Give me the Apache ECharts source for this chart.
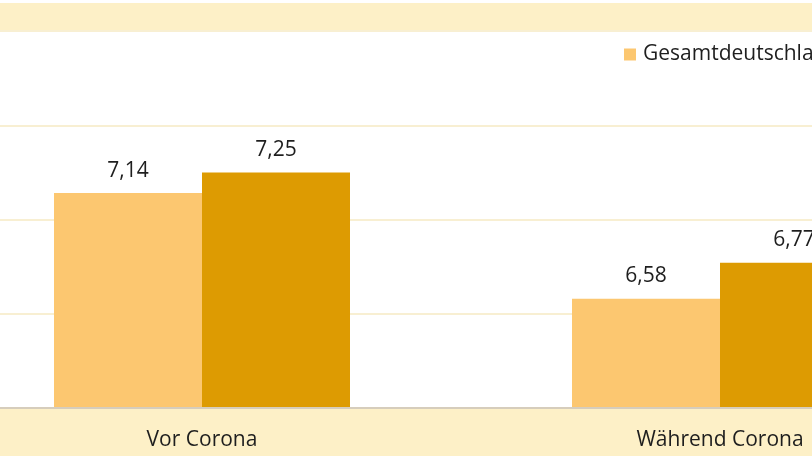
<!DOCTYPE html>
<html>
<head>
<meta charset="utf-8">
<script src="https://cdn.jsdelivr.net/npm/echarts@6/dist/echarts.min.js"></script>
<style>
html,body{margin:0;padding:0;overflow:hidden;background:#fff;width:812px;height:459px;position:relative;}
#chart{position:absolute;left:-100px;top:0;width:1200px;height:459px;}
</style>
</head>
<body>
<div id="chart"></div>
<script>
const categories = ["Vor Corona", "Während Corona"];
const seriesNames = ["Gesamtdeutschland", "Bayern"];
const valuesGesamt = [7.14, 6.58];
const valuesRegion = [7.25, 6.77];

const chart = echarts.init(document.getElementById('chart'));
const FONT = '"Open Sans", "Noto Sans", sans-serif';
const labelFmt = p => String(p.value.toFixed(2)).replace('.', ',');

chart.setOption({
  animation: false,
  backgroundColor: '#ffffff',
  textStyle: { fontFamily: FONT },
  graphic: [
    { type: 'rect', shape: { x: 0, y: 3, width: 1200, height: 28 }, style: { fill: '#FDF0C7' }, z: -10, silent: true },
    { type: 'rect', shape: { x: 0, y: 409, width: 1200, height: 47 }, style: { fill: '#FDF0C7' }, z: -10, silent: true }
  ],
  legend: {
    data: seriesNames,
    left: 724,
    top: 44,
    padding: 0,
    icon: 'rect',
    itemWidth: 12,
    itemHeight: 12,
    itemGap: 30,
    textStyle: { fontSize: 21, color: '#1e1e1e', fontFamily: FONT, padding: [0, 0, 0, 2] }
  },
  grid: { left: 43, right: 121, top: 31, bottom: 51, containLabel: false },
  xAxis: {
    type: 'category',
    data: categories,
    axisLine: { show: true, lineStyle: { color: '#D6CDBC', width: 2 } },
    axisTick: { show: false },
    axisLabel: { fontSize: 21, color: '#1e1e1e', margin: 22, fontFamily: FONT },
    z: 5
  },
  yAxis: {
    type: 'value',
    min: 6,
    max: 8,
    interval: 0.5,
    axisLabel: { show: false },
    axisLine: { show: false },
    axisTick: { show: false },
    splitLine: { lineStyle: { color: '#F8EFD2', width: 2 } }
  },
  series: [
    {
      name: seriesNames[0],
      type: 'bar',
      data: valuesGesamt,
      barWidth: 148,
      barGap: '0%',
      itemStyle: { color: '#FCC770' },
      label: { show: true, position: 'top', distance: 12, fontSize: 21, color: '#1e1e1e', fontFamily: FONT, formatter: labelFmt }
    },
    {
      name: seriesNames[1],
      type: 'bar',
      data: valuesRegion,
      barWidth: 148,
      barGap: '0%',
      itemStyle: { color: '#DD9B02' },
      label: { show: true, position: 'top', distance: 12, fontSize: 21, color: '#1e1e1e', fontFamily: FONT, formatter: labelFmt }
    }
  ]
});
</script>
</body>
</html>
